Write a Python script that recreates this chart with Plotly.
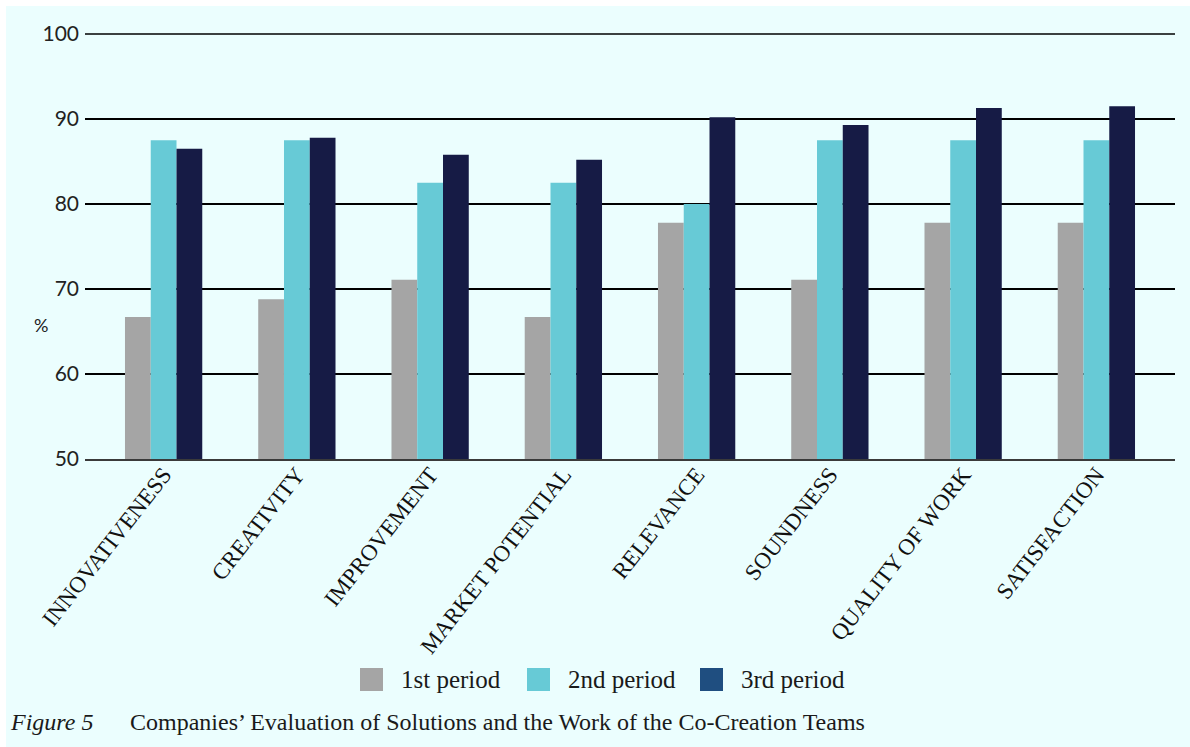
import plotly.graph_objects as go

# Evaluation criteria and the share (%) of positive company ratings per period
categories = ["INNOVATIVENESS", "CREATIVITY", "IMPROVEMENT", "MARKET POTENTIAL",
              "RELEVANCE", "SOUNDNESS", "QUALITY OF WORK", "SATISFACTION"]
period_names = ["1st period", "2nd period", "3rd period"]
period1 = [66.7, 68.8, 71.1, 66.7, 77.8, 71.1, 77.8, 77.8]
period2 = [87.5, 87.5, 82.5, 82.5, 80.0, 87.5, 87.5, 87.5]
period3 = [86.5, 87.8, 85.8, 85.2, 90.2, 89.3, 91.3, 91.5]
y_ticks = [50, 60, 70, 80, 90, 100]

bar_colors = ["#A5A5A5", "#67CAD6", "#161B45"]
legend_colors = ["#A5A5A5", "#67CAD6", "#1F4E80"]
bg = "#EBFEFE"

fig = go.Figure()
for name, vals, col in zip(period_names, [period1, period2, period3], bar_colors):
    fig.add_trace(go.Bar(
        x=categories, y=vals, name=name, marker_color=col,
        marker_line_width=0, showlegend=False,
    ))

W, H = 1190, 747
ml, mr, mt, mb = 85, 15, 34, 288
pw, ph = W - ml - mr, H - mt - mb

def px(x):
    return (x - ml) / pw

def py(y):
    return (H - mb - y) / ph

shapes = [
    dict(type="rect", xref="paper", yref="paper", layer="below",
         x0=px(6), x1=px(W), y0=py(H), y1=py(6),
         fillcolor=bg, line_width=0),
    # top gridline on the plot edge (unclipped so it keeps its full width)
    dict(type="line", xref="paper", yref="paper", x0=0, x1=1, y0=1, y1=1,
         line=dict(color="#000", width=1.6)),
]
annotations = [
    dict(text="%", xref="paper", yref="paper", x=px(41), y=py(325),
         xanchor="center", yanchor="middle", showarrow=False,
         font=dict(family="Lato", size=18, color="#222")),
    dict(text="<i>Figure 5</i>", xref="paper", yref="paper", x=px(8), y=py(722),
         xanchor="left", yanchor="middle", showarrow=False,
         font=dict(family="Liberation Serif", size=24, color="#1a1a1a")),
    dict(text="Companies’ Evaluation of Solutions and the Work of the Co-Creation Teams",
         xref="paper", yref="paper", x=px(128), y=py(722), xanchor="left",
         yanchor="middle", showarrow=False,
         font=dict(family="Liberation Serif", size=24, color="#1a1a1a")),
]

# Legend drawn as swatches plus labels beneath the chart
swatch_x = [360, 527, 700]
for sx, name, col in zip(swatch_x, period_names, legend_colors):
    shapes.append(dict(type="rect", xref="paper", yref="paper",
                       x0=px(sx), x1=px(sx + 23), y0=py(691), y1=py(668),
                       fillcolor=col, line_width=0))
    annotations.append(dict(text=name, xref="paper", yref="paper",
                            x=px(sx + 39), y=py(679), xanchor="left",
                            yanchor="middle", showarrow=False,
                            font=dict(family="Liberation Serif", size=25, color="#1a1a1a")))

fig.update_layout(
    width=W, height=H,
    margin=dict(l=ml, r=mr, t=mt, b=mb),
    paper_bgcolor="white", plot_bgcolor="rgba(0,0,0,0)",
    barmode="group", bargap=0.42, bargroupgap=0,
    shapes=shapes, annotations=annotations,
    showlegend=False,
)
fig.update_xaxes(
    range=[-0.59, 7.59], tickangle=-52,
    tickfont=dict(family="Liberation Serif", size=23, color="#111"),
    ticklabelstandoff=-9,
    showline=True, linecolor="#3a3a3a", linewidth=2,
    showgrid=False, ticks="",
)
fig.update_yaxes(
    range=[50, 100], tickvals=y_ticks,
    tickfont=dict(family="Lato", size=21, color="#222"),
    ticklabelstandoff=5,
    showgrid=True, gridcolor="#000", gridwidth=1.5,
    zeroline=False, showline=False, ticks="",
)

fig.write_html("out.html")
